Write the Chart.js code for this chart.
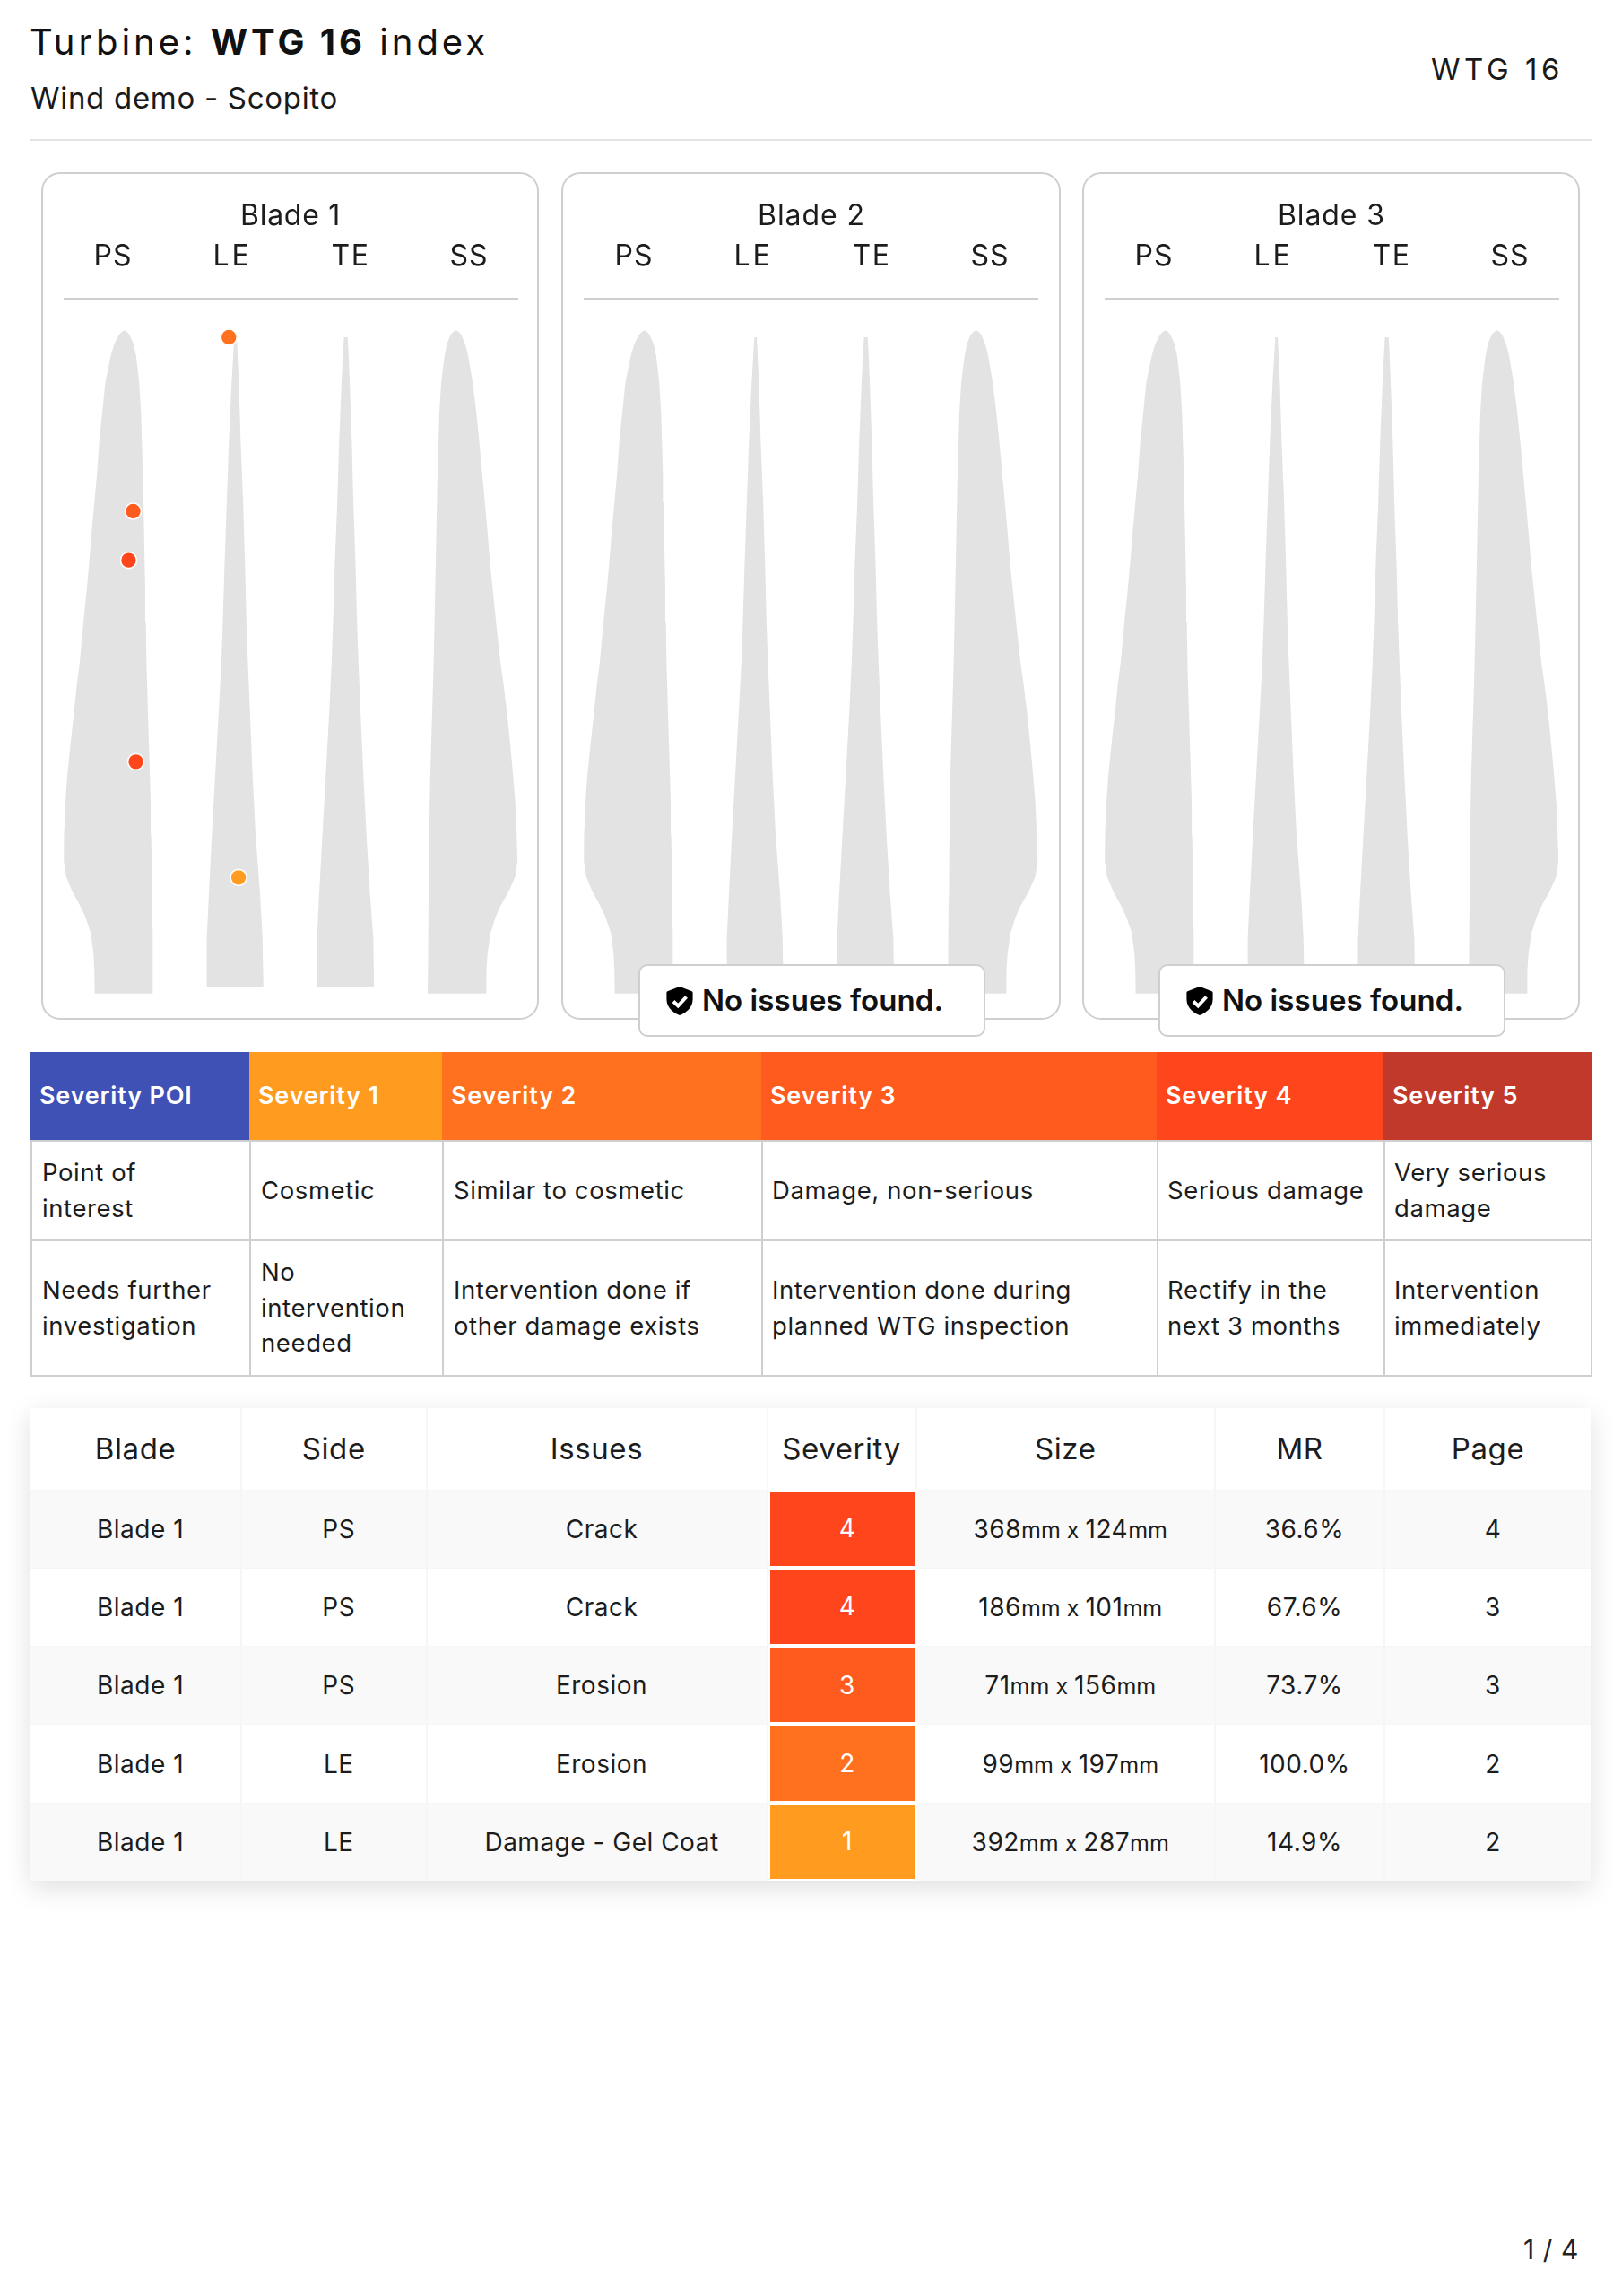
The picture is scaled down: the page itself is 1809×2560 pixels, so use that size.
<!DOCTYPE html>
<html lang="en">
<head>
<meta charset="utf-8">
<title>Turbine: WTG 16 index</title>
<script src="https://cdn.jsdelivr.net/npm/chart.js@4"></script>
<style>
  html,body{margin:0;padding:0;background:#fff;}
  body{position:relative;width:1809px;height:2560px;overflow:hidden;font-family:Inter,"Noto Sans",sans-serif;color:#1c1c1c;}
  .t{position:absolute;white-space:pre;line-height:1;}
  .rule{position:absolute;background:#e4e4e4;}
  .panel{position:absolute;top:192px;height:945px;box-sizing:border-box;border:2px solid #cfcfcf;border-radius:21px;background:#fff;}
  .panel canvas{position:absolute;left:-1px;top:-1px;}
  .divider{position:absolute;left:23px;top:138px;width:507px;height:2px;background:#cfcfcf;}
  .badge{position:absolute;top:1075px;height:81px;box-sizing:border-box;border:2px solid #cfcfcf;border-radius:10px;background:#fff;}
  table{position:absolute;border-collapse:separate;border-spacing:0;table-layout:fixed;}
  #legend{left:34px;top:1173px;width:1742px;font-size:27.5px;letter-spacing:.022em;line-height:39.5px;}
  #legend th{color:#fff;font-weight:600;text-align:left;padding:0 0 0 10px;font-size:27px;letter-spacing:.03em;height:98px;box-sizing:border-box;}
  #legend td{padding:0 4px 0 11px;box-sizing:border-box;border-left:2px solid #cfcfcf;border-bottom:2px solid #cfcfcf;vertical-align:middle;}
  #legend td:nth-child(n+4){padding-left:10px;}
  #legend td:last-child{border-right:2px solid #cfcfcf;}
  #legend tr.r1 td{height:113px;border-top:2px solid #cfcfcf;}
  #legend tr.r2 td{height:151px;}
  #issues{left:34px;top:1570px;width:1740px;text-align:center;box-shadow:0 8px 28px rgba(0,0,0,.13);background:#fff;}
  #issues th{font-weight:400;font-size:33px;letter-spacing:.018em;height:90.5px;border-right:2px solid #f6f6f6;padding:0;box-sizing:border-box;}
  #issues td{font-size:28px;letter-spacing:.018em;height:87.3px;border-right:2px solid #f6f6f6;border-top:1px solid #f6f6f6;padding:0 0 0 11px;box-sizing:border-box;}
  #issues tr:nth-child(even) td{background:#f9f9f9;}
  #issues th:last-child,#issues td:last-child{border-right:0;}
  #issues td.sev{color:#fff;border:2px solid #fff !important;}
  #issues small{font-size:25px;letter-spacing:0;}
</style>
</head>
<body>
<script>
/* ---------- chart data ---------- */
const bladeNames = ["Blade 1", "Blade 2", "Blade 3"];
const sideNames = ["PS", "LE", "TE", "SS"];

/* blade outlines: station along the span, then the two edges at that station */
const psSpan  = [25,30,40,70,110,200,300,400,500,600,700,800,900,1000,1140,1210,1310,1410,1510,1610,1710,1800,1850,1900,1960,1990,2040,2110,2170,2243];
const psLeft  = [233,224,215,200,188,170,160,150,143,134,125,117,108,98,85,76,66,55,45,38,34,33,40,60,92,105,122,131,134,135];
const psRight = [233,242,250,263,272,282,288,291,294,296,298,300,302,304,306,308,311,314,317,320,321,323,323,324,325,325,326,327,327,328];

const leSpan  = [48,200,400,600,800,1000,1140,1310,1510,1710,1910,2060,2220];
const leLeft  = [596,587,578,571,564,558,553,544,533,522,512,505,505];
const leRight = [604,611,617,625,631,636,641,648,656,666,681,689,692];

const teSpan  = [48,100,200,400,600,800,1000,1140,1310,1510,1710,1910,2060,2220];
const teLeft  = [958,955,950,942,936,928,922,917,909,898,887,876,869,869];
const teRight = [970,973,977,984,989,996,1001,1006,1013,1022,1032,1044,1055,1057];

const ssSpan  = [25,30,40,70,110,200,300,400,500,600,700,800,900,1000,1140,1210,1310,1410,1510,1610,1710,1800,1850,1900,1960,1990,2040,2110,2170,2243];
const ssLeft  = [1328,1319,1310,1298,1290,1279,1273,1270,1267,1265,1263,1261,1259,1257,1254,1252,1249,1246,1243,1241,1240,1239,1239,1238,1237,1236,1236,1235,1235,1234];
const ssRight = [1328,1337,1345,1358,1368,1383,1395,1405,1414,1423,1432,1440,1450,1460,1475,1485,1497,1507,1516,1524,1528,1531,1524,1503,1470,1458,1442,1432,1428,1427];

/* findings */
const findingBlade    = [0, 0, 0, 0, 0];
const findingChord    = [247, 271, 262, 578, 610];
const findingSpan     = [794, 1468, 630, 48, 1855];
const findingSide     = ["PS", "PS", "PS", "LE", "LE"];
const findingIssue    = ["Crack", "Crack", "Erosion", "Erosion", "Damage - Gel Coat"];
const findingSeverity = [4, 4, 3, 2, 1];
const findingSizeA    = [368, 186, 71, 99, 392];
const findingSizeB    = [124, 101, 156, 197, 287];
const findingMR       = ["36.6%", "67.6%", "73.7%", "100.0%", "14.9%"];
const findingPage     = [4, 3, 3, 2, 2];
const cleanBlades     = [1, 2];

/* severity legend */
const severityHeads = ["Severity POI", "Severity 1", "Severity 2", "Severity 3", "Severity 4", "Severity 5"];
const severityMeaning = ["Point of<br>interest", "Cosmetic", "Similar to cosmetic", "Damage, non-serious", "Serious damage", "Very serious<br>damage"];
const severityAction = ["Needs further<br>investigation", "No<br>intervention<br>needed", "Intervention done if<br>other damage exists", "Intervention done during<br>planned WTG inspection", "Rectify in the<br>next 3 months", "Intervention<br>immediately"];
const issueHeads = ["Blade", "Side", "Issues", "Severity", "Size", "MR", "Page"];

/* ---------- styling ---------- */
const severityColors = ["#3F51B5", "#FF9C1F", "#FF701F", "#FF5B1E", "#FF451C", "#C0392B"];
const legendColumns = [244, 215, 356, 441, 253, 233];
const issueColumns = [236, 206.5, 380, 166, 333.5, 189, 229];
const panelLefts = [46, 626, 1207];
const panelWidths = [555, 557, 555];
const bladeTitleWidths = [112, 120, 120];
const sideCentres = [80, 213, 345, 477];

function put(text, x, cy, size, o) {
  o = o || {};
  const el = document.createElement("div");
  el.className = "t";
  el.innerHTML = text;
  el.style.fontSize = size + "px";
  el.style.fontWeight = o.weight || 400;
  el.style.color = o.color || "#1c1c1c";
  (o.parent || document.body).appendChild(el);
  if (o.width) {
    const natural = el.getBoundingClientRect().width;
    const n = el.textContent.length;
    el.style.letterSpacing = ((o.width - natural) / n) + "px";
  }
  const box = el.getBoundingClientRect();
  const w = o.width || box.width;
  el.style.left = (o.center ? x - w / 2 : x) + "px";
  el.style.top = (cy - size / 2) + "px";
  return el;
}

/* header */
put('Turbine: <b style="font-weight:700">WTG 16</b> index', 33, 47, 40, {width: 512, color: "#111"});
put("Wind demo - Scopito", 34, 109, 33, {width: 343, color: "#1a1a1a"});
put("WTG 16", 1596, 77, 33, {width: 148, color: "#1a1a1a"});
const rule = document.createElement("div");
rule.className = "rule";
rule.style.cssText = "left:34px;top:155px;width:1741px;height:2px;";
document.body.appendChild(rule);

/* blade panels */
function outline(span, left, right) {
  const pts = span.map((s, i) => ({x: left[i], y: s}));
  for (let i = span.length - 1; i >= 0; i--) pts.push({x: right[i], y: span[i]});
  return pts;
}

bladeNames.forEach((name, b) => {
  const panel = document.createElement("div");
  panel.className = "panel";
  panel.style.left = panelLefts[b] + "px";
  panel.style.width = panelWidths[b] + "px";
  document.body.appendChild(panel);

  const canvas = document.createElement("canvas");
  canvas.width = 554; canvas.height = 944;
  canvas.style.width = "554px"; canvas.style.height = "944px";
  panel.appendChild(canvas);

  const shape = (span, l, r) => ({
    type: "line", data: outline(span, l, r), showLine: true, fill: "shape",
    backgroundColor: "#e3e3e3", borderWidth: 0, pointRadius: 0, tension: 0, order: 2
  });
  const idx = findingBlade.map((v, i) => v === b ? i : -1).filter(i => i >= 0);
  new Chart(canvas, {
    type: "scatter",
    data: { datasets: [
      shape(psSpan, psLeft, psRight),
      shape(leSpan, leLeft, leRight),
      shape(teSpan, teLeft, teRight),
      shape(ssSpan, ssLeft, ssRight),
      { type: "scatter", order: 1,
        data: idx.map(i => ({x: findingChord[i], y: findingSpan[i]})),
        backgroundColor: idx.map(i => severityColors[findingSeverity[i]]),
        borderColor: "#ffffff", borderWidth: 1.6, pointRadius: 9, pointHoverRadius: 9 }
    ]},
    options: {
      responsive: false, animation: false, devicePixelRatio: 1,
      layout: {padding: 0, autoPadding: false},
      plugins: {legend: {display: false}, tooltip: {enabled: false}, title: {display: false}},
      scales: {
        x: {type: "linear", display: false, min: -38.5, max: 1601.5},
        y: {type: "linear", display: false, min: -501, max: 2331, reverse: true}
      }
    }
  });

  const left = panelLefts[b], w = panelWidths[b];
  put(name, left + w / 2 + 0.5, 239.5, 32, {center: true, width: bladeTitleWidths[b]});
  sideNames.forEach((s, i) => put(s, left + sideCentres[i] + (b === 1 ? 1 : 0), 285, 32, {center: true, width: 43}));
  const d = document.createElement("div");
  d.className = "divider";
  panel.appendChild(d);
});

/* "no issues" badges */
cleanBlades.forEach(b => {
  const cx = panelLefts[b] + panelWidths[b] / 2 + 0.5;
  const el = document.createElement("div");
  el.className = "badge";
  el.style.left = (cx - 193) + "px";
  el.style.width = "387px";
  el.innerHTML = '<svg width="30" height="32" viewBox="0 0 30 32" style="position:absolute;left:29px;top:23px"><path d="M15 0 L28 5 C29 5.4 29.6 6.2 29.6 7.2 L29.6 14 C29.6 23 23 29 15 32 C7 29 .4 23 .4 14 L.4 7.2 C.4 6.2 1 5.4 2 5 Z" fill="#000"/><path d="M8 16.5 L13.2 21.5 L22.5 11.5" fill="none" stroke="#fff" stroke-width="4"/></svg>';
  document.body.appendChild(el);
  put("No issues found.", cx - 193 + 71, 1115.5, 33, {weight: 600, width: 269, color: "#111"});
});

/* severity legend table */
function colgroup(widths) {
  return "<colgroup>" + widths.map(w => `<col style="width:${w}px">`).join("") + "</colgroup>";
}
const legend = document.createElement("table");
legend.id = "legend";
legend.innerHTML = colgroup(legendColumns) +
  "<tr>" + severityHeads.map((h, i) => `<th style="background:${severityColors[i]}">${h}</th>`).join("") + "</tr>" +
  '<tr class="r1">' + severityMeaning.map(t => `<td>${t}</td>`).join("") + "</tr>" +
  '<tr class="r2">' + severityAction.map(t => `<td>${t}</td>`).join("") + "</tr>";
document.body.appendChild(legend);

/* findings table */
const issues = document.createElement("table");
issues.id = "issues";
issues.innerHTML = colgroup(issueColumns) +
  "<tr>" + issueHeads.map(h => `<th>${h}</th>`).join("") + "</tr>" +
  findingSide.map((s, i) => "<tr>" +
    `<td>${bladeNames[findingBlade[i]]}</td><td>${s}</td><td>${findingIssue[i]}</td>` +
    `<td class="sev" style="background:${severityColors[findingSeverity[i]]}">${findingSeverity[i]}</td>` +
    `<td>${findingSizeA[i]}<small>mm x </small>${findingSizeB[i]}<small>mm</small></td>` +
    `<td>${findingMR[i]}</td><td>${findingPage[i]}</td></tr>`).join("");
document.body.appendChild(issues);

/* page number */
put("1 / 4", 1699, 2508, 30, {width: 62, color: "#222"});
</script>
</body>
</html>
